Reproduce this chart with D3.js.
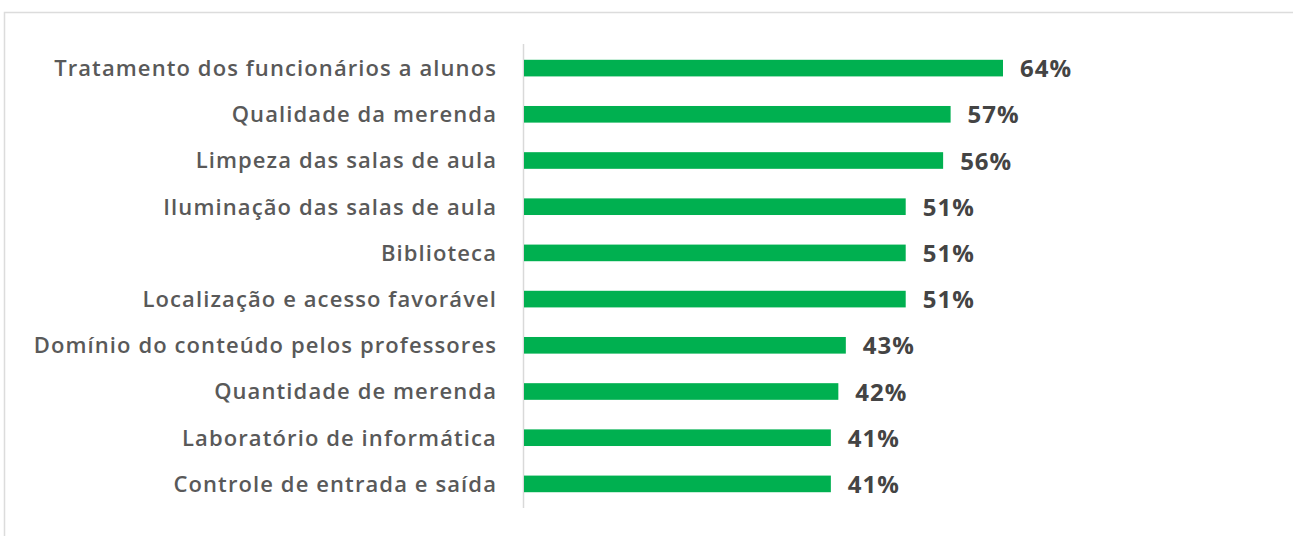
<!DOCTYPE html>
<html>
<head>
<meta charset="utf-8">
<script src="https://cdn.jsdelivr.net/npm/d3@7"></script>
<style>
	html, body { margin: 0; padding: 0; background: #fff; }
	svg { display: block; }
</style>
</head>
<body>
<div id="chart"></div>
<script>
var categories = [
	"Tratamento dos funcionários a alunos",
	"Qualidade da merenda",
	"Limpeza das salas de aula",
	"Iluminação das salas de aula",
	"Biblioteca",
	"Localização e acesso favorável",
	"Domínio do conteúdo pelos professores",
	"Quantidade de merenda",
	"Laboratório de informática",
	"Controle de entrada e saída"
];
var values = [64, 57, 56, 51, 51, 51, 43, 42, 41, 41];

var width = 1293, height = 536;
var svg = d3.select("#chart").append("svg")
	.attr("width", width)
	.attr("height", height);

// frame of the original picture
svg.append("rect")
	.attr("x", 4.5)
	.attr("y", 12.5)
	.attr("width", width + 10)
	.attr("height", height + 10)
	.attr("fill", "none")
	.attr("stroke", "#dcdcdc")
	.attr("stroke-width", 1.5);

var x = d3.scaleLinear()
	.domain([0, 64])
	.range([524, 1003]);
var y = d3.scaleBand()
	.domain(categories)
	.range([45, 507])
	.paddingInner(0.64)
	.paddingOuter(0.32);

// axis line
svg.append("line")
	.attr("x1", 523.5).attr("x2", 523.5)
	.attr("y1", 44).attr("y2", 508)
	.attr("stroke", "#d9d9d9")
	.attr("stroke-width", 1.5);

svg.append("g")
	.selectAll("rect")
	.data(values)
	.enter()
	.append("rect")
	.attr("x", x(0))
	.attr("y", (d, i) => y(categories[i]))
	.attr("width", (d) => x(d) - x(0))
	.attr("height", y.bandwidth())
	.attr("fill", "#00b050");

// category labels
svg.append("g")
	.selectAll("text")
	.data(categories)
	.enter()
	.append("text")
	.attr("x", 497)
	.attr("y", (d) => y(d) + y.bandwidth() / 2)
	.attr("dy", "0.36em")
	.attr("text-anchor", "end")
	.attr("font-family", "'Open Sans', sans-serif")
	.attr("font-weight", 600)
	.attr("font-size", "22px")
	.attr("letter-spacing", "1.1px")
	.attr("fill", "#595959")
	.text((d) => d);

// value labels
svg.append("g")
	.selectAll("text")
	.data(values)
	.enter()
	.append("text")
	.attr("x", (d) => x(d) + 17)
	.attr("y", (d, i) => y(categories[i]) + y.bandwidth() / 2)
	.attr("dy", "0.38em")
	.attr("font-family", "'Open Sans', sans-serif")
	.attr("font-weight", "bold")
	.attr("font-size", "24px")
	.attr("letter-spacing", "1px")
	.attr("fill", "#444")
	.text((d) => d + "%");
</script>
</body>
</html>
